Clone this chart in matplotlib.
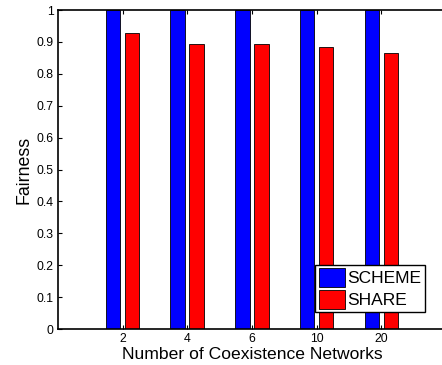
import numpy as np
import matplotlib.pyplot as plt

plt.rcParams['font.family'] = ['Liberation Sans', 'DejaVu Sans']

categories = ['2', '4', '6', '10', '20']
scheme = [1.0, 1.0, 1.0, 1.0, 1.0]
share = [0.927, 0.894, 0.892, 0.883, 0.866]

x = np.arange(1, len(categories) + 1)
w = 0.225
off = 0.147

fig = plt.figure(figsize=(4.42, 3.65), dpi=100)
ax = fig.add_axes([0.131, 0.0986, 0.878, 0.874])

ax.bar(x - off, scheme, w, color='#0000ff', edgecolor='black', linewidth=0.6, label='SCHEME')
ax.bar(x + off, share, w, color='#ff0000', edgecolor='black', linewidth=0.6, label='SHARE')

ax.set_xlim(0, 6)
ax.set_ylim(0, 1)
ax.set_xticks(x)
ax.set_xticklabels(categories)
ax.set_yticks(np.arange(0, 1.01, 0.1))
ax.set_yticklabels(['0', '0.1', '0.2', '0.3', '0.4', '0.5', '0.6', '0.7', '0.8', '0.9', '1'])
ax.tick_params(direction='in', top=True, right=True, labelsize=8.8, length=3, pad=3)
for s in ax.spines.values():
    s.set_linewidth(1.2)

ax.set_xlabel('Number of Coexistence Networks', fontsize=12.6, labelpad=1)
ax.set_ylabel('Fairness', fontsize=12.8, labelpad=3)

leg = ax.legend(loc='lower right', bbox_to_anchor=(0.946, 0.053), fontsize=12.5, fancybox=False,
                framealpha=1, edgecolor='black', handlelength=1.55, handleheight=1.25,
                handletextpad=0.12, borderpad=0.2, labelspacing=0.2, borderaxespad=0)
leg.get_frame().set_linewidth(1.0)

plt.savefig('out.png', dpi=100)
